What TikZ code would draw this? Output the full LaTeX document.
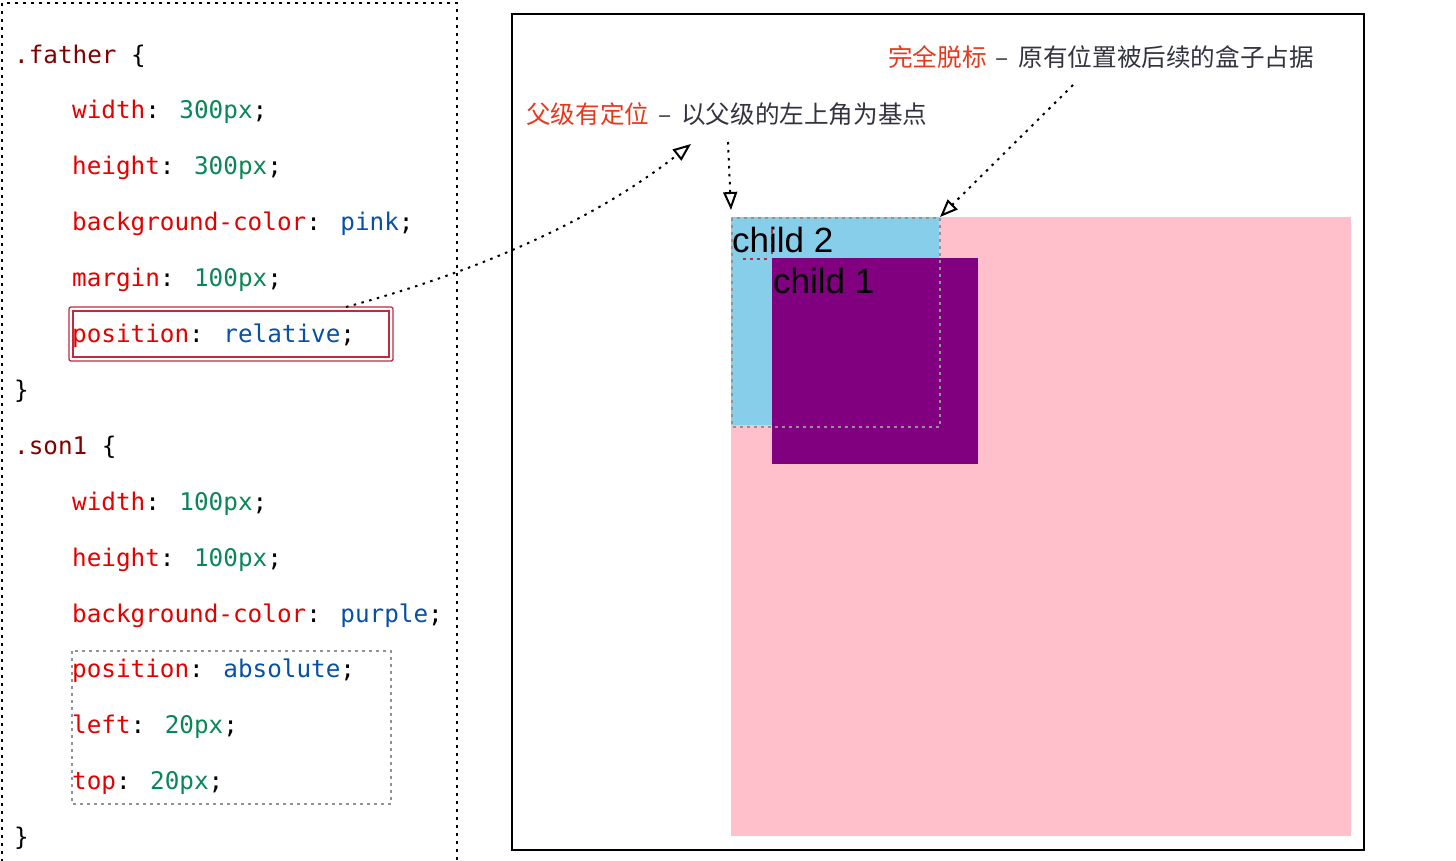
\documentclass[tikz,border=0pt]{standalone}
\usepackage{fontspec}
\usetikzlibrary{arrows.meta}
\newfontfamily\codefont{DejaVu Sans Mono}[WordSpace={1,0,0}]
\newfontfamily\cjkfont{Noto Sans CJK SC}
\newfontfamily\labfont{Liberation Sans}
\definecolor{selc}{HTML}{800000}
\definecolor{propc}{HTML}{E50000}
\definecolor{numc}{HTML}{098658}
\definecolor{valc}{HTML}{0451A5}
\definecolor{annred}{HTML}{E8381A}
\definecolor{anngray}{HTML}{333340}
\definecolor{boxred}{HTML}{BE2A40}
\definecolor{pinkc}{HTML}{FFC0CB}
\definecolor{skyc}{HTML}{87CEEB}
\definecolor{purc}{HTML}{800080}
\newcommand{\cPr}[1]{\textcolor{propc}{#1}}
\newcommand{\cNm}[1]{\textcolor{numc}{#1}}
\newcommand{\cVl}[1]{\textcolor{valc}{#1}}
\newcommand{\anndash}{\hspace{9pt}–\hspace{10pt}}
\begin{document}
\begin{tikzpicture}[x=1pt,y=-1pt,
  code/.style={anchor=base west,inner sep=0pt,font=\codefont\fontsize{24.3}{29}\selectfont},
  ann/.style={anchor=base west,inner sep=0pt,font=\cjkfont\fontsize{24.6}{28}\selectfont,text=anngray},
  lab/.style={anchor=base west,inner sep=0pt,font=\labfont\fontsize{35}{40}\selectfont,text=black},
  conn/.style={draw=black,line width=2pt,dash pattern=on 2.5pt off 5.5pt,-{Triangle[open,length=18pt,width=14pt,line width=2pt]}},
  panel/.style={draw=black,line width=1.8pt,dash pattern=on 3pt off 5pt}]
\useasboundingbox (0,0) rectangle (1456,860);
% left code panel border
\draw[panel] (2,870) -- (2,3) -- (457,3) -- (457,870);
% code lines
\def\bl{63}
\def\ls{55.9}
\node[code,text=selc] (l0) at (14,{\bl+0*\ls}) {.father \textcolor{black}{\{}};
\node[code] (l1) at (72,{\bl+1*\ls}) {\cPr{width}: \cNm{300px};};
\node[code] (l2) at (72,{\bl+2*\ls}) {\cPr{height}: \cNm{300px};};
\node[code] (l3) at (72,{\bl+3*\ls}) {\cPr{background-color}: \cVl{pink};};
\node[code] (l4) at (72,{\bl+4*\ls}) {\cPr{margin}: \cNm{100px};};
\node[code] (l5) at (72,{\bl+5*\ls}) {\cPr{position}: \cVl{relative};};
\node[code] (l6) at (14,{\bl+6*\ls}) {\}};
\node[code,text=selc] (l7) at (14,{\bl+7*\ls}) {.son1 \textcolor{black}{\{}};
\node[code] (l8) at (72,{\bl+8*\ls}) {\cPr{width}: \cNm{100px};};
\node[code] (l9) at (72,{\bl+9*\ls}) {\cPr{height}: \cNm{100px};};
\node[code] (l10) at (72,{\bl+10*\ls}) {\cPr{background-color}: \cVl{purple};};
\node[code] (l11) at (72,{\bl+11*\ls}) {\cPr{position}: \cVl{absolute};};
\node[code] (l12) at (72,{\bl+12*\ls}) {\cPr{left}: \cNm{20px};};
\node[code] (l13) at (72,{\bl+13*\ls}) {\cPr{top}: \cNm{20px};};
\node[code] (l14) at (14,{\bl+14*\ls}) {\}};
% red double box
\draw[boxred,line width=1.3pt,rounded corners=2pt] (69,307) rectangle (393,361);
\draw[boxred,line width=1.3pt] (73,311) rectangle (389,357);
\coordinate (rbtop) at (346,307);
% gray dashed box
\draw[gray!85,line width=1.4pt,dash pattern=on 3pt off 4pt] (72,651) rectangle (391,804);
% right panel
\draw[black,line width=1.6pt] (512,14) rectangle (1364,850);
\fill[pinkc] (731,217) rectangle (1351,836);
\fill[skyc] (731,217) rectangle (939,425);
\fill[purc] (772,258) rectangle (978,464);
\draw[gray!85,line width=1.4pt,dash pattern=on 3pt off 4pt] (732,218) rectangle (940,427);
\draw[boxred,line width=1.4pt,dash pattern=on 3pt off 4pt] (743,259) -- (768,259);
\draw[boxred,line width=1.4pt,dash pattern=on 3pt off 4pt] (772,230) -- (772,256);
\node[lab] (c2) at (732,252) {child 2};
\node[lab] (c1) at (773,293) {child 1};
% annotations
\node[ann] (a1) at (888,66) {\textcolor{annred}{完全脱标}\anndash 原有位置被后续的盒子占据};
\node[ann] (a2) at (526,123) {\textcolor{annred}{父级有定位}\anndash 以父级的左上角为基点};
% connectors
\coordinate (t1) at (691,144);
\coordinate (s2) at (728,142);
\coordinate (t2) at (731,210);
\coordinate (s3) at (1073,85);
\coordinate (t3) at (940,217);
\draw[conn] (rbtop) .. controls (520,260) and (620,200) .. (t1);
\draw[conn] (s2) -- (t2);
\draw[conn] (s3) -- (t3);
\end{tikzpicture}
\end{document}
